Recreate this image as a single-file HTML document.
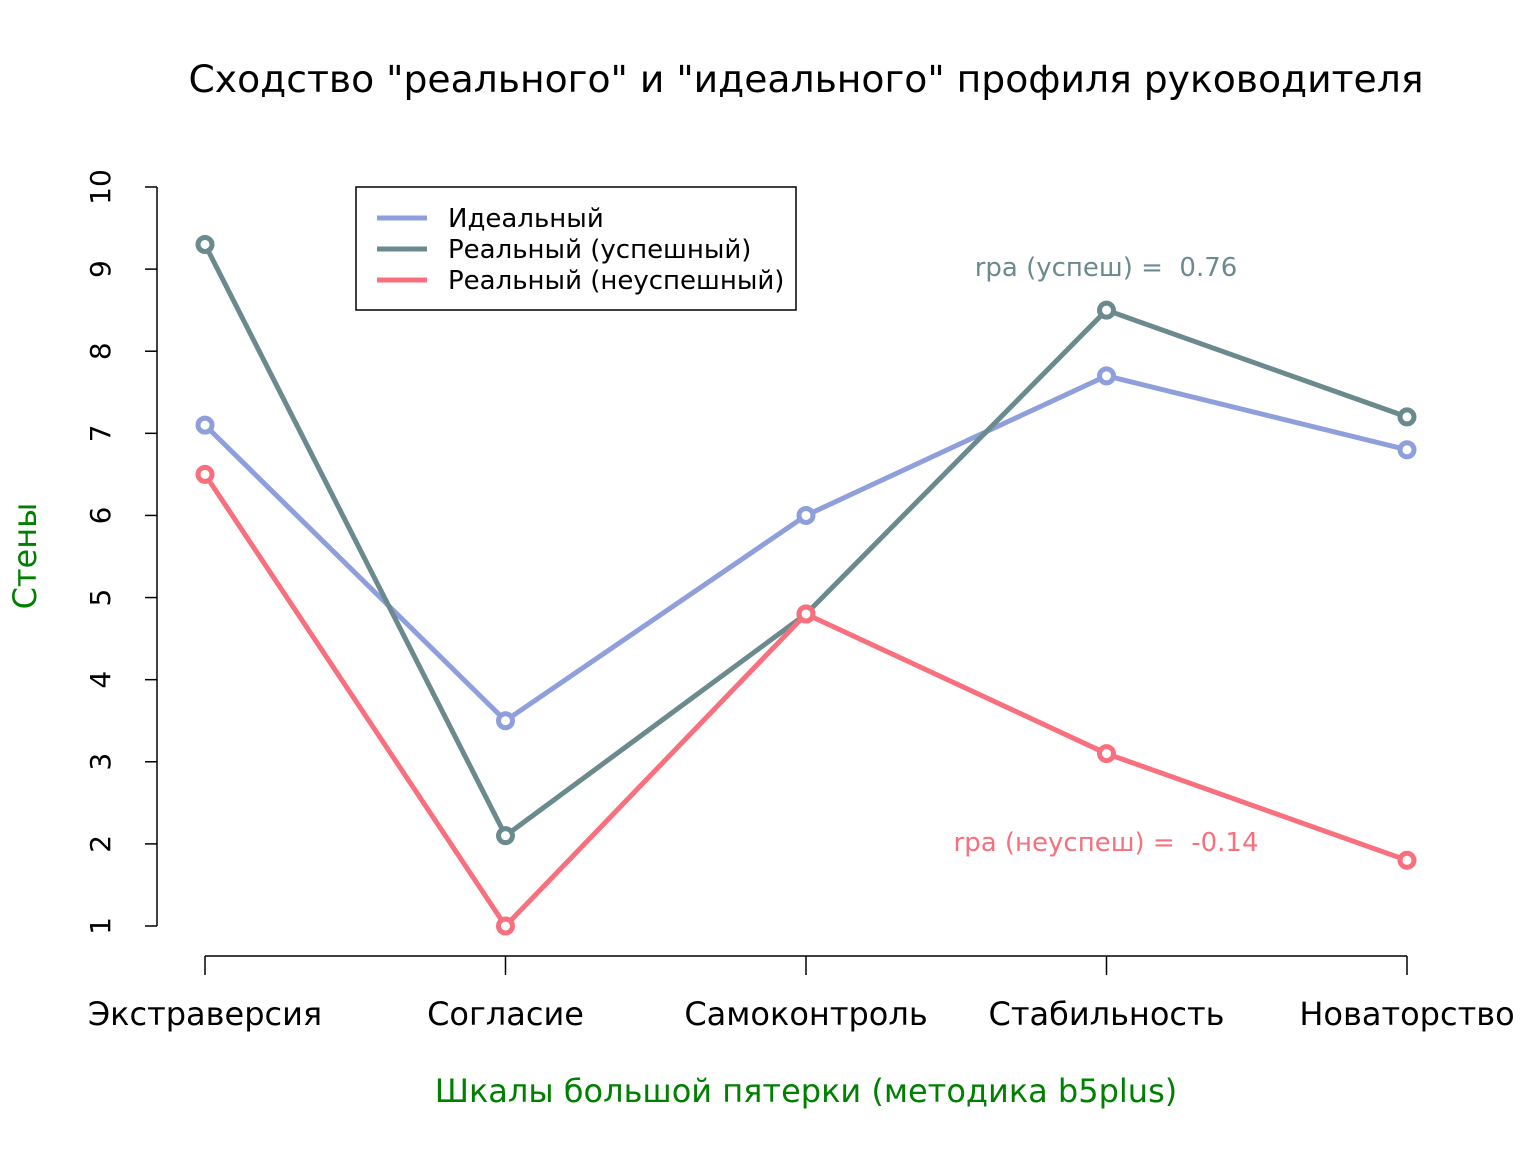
<!DOCTYPE html>
<html><head><meta charset="utf-8"><style>
body{margin:0;background:#fff}
svg{display:block;font-family:"DejaVu Sans","Liberation Sans",sans-serif}
</style></head><body>
<svg id="chart" width="1536" height="1152" viewBox="0 0 1536 1152">
<rect width="1536" height="1152" fill="#fff"/>
<text x="806" y="92" font-size="37.7" text-anchor="middle">Сходство "реального" и "идеального" профиля руководителя</text>
<text x="806" y="1102" font-size="32" fill="#008000" text-anchor="middle">Шкалы большой пятерки (методика b5plus)</text>
<text transform="translate(36,556) rotate(-90)" font-size="32" fill="#008000" text-anchor="middle">Стены</text>
<g id="axes"></g>
<g id="series"></g>
<g>
<rect x="356" y="187" width="440" height="123" fill="#fff" stroke="#000" stroke-width="1.5"/>
<line x1="377" y1="218" x2="427" y2="218" stroke="#8e9fdc" stroke-width="5"/>
<text x="448" y="227" font-size="26">Идеальный</text>
<line x1="377" y1="249" x2="427" y2="249" stroke="#6b8a8e" stroke-width="5"/>
<text x="448" y="258" font-size="26">Реальный (успешный)</text>
<line x1="377" y1="280" x2="427" y2="280" stroke="#f8707e" stroke-width="5"/>
<text x="448" y="289" font-size="26">Реальный (неуспешный)</text>
</g>
<text x="1106" y="276" font-size="26" fill="#6b8a8e" text-anchor="middle">rpa (успеш) =&#160; 0.76</text>
<text x="1106" y="851" font-size="26" fill="#f8707e" text-anchor="middle">rpa (неуспеш) =&#160; -0.14</text>
</svg>
<script>
const categories = ["Экстраверсия","Согласие","Самоконтроль","Стабильность","Новаторство"];
const idealValues = [7.1, 3.5, 6.0, 7.7, 6.8];
const successValues = [9.3, 2.1, 4.8, 8.5, 7.2];
const failValues = [6.5, 1.0, 4.8, 3.1, 1.8];
const yTicks = [1,2,3,4,5,6,7,8,9,10];

const NS = "http://www.w3.org/2000/svg";
function xScale(i){ return 205 + i * (1407 - 205) / (categories.length - 1); }
function yScale(v){ return 926 - (v - 1) * (926 - 187) / 9; }
function mk(tag, attrs, parent){ const e = document.createElementNS(NS, tag); for (const k in attrs) e.setAttribute(k, attrs[k]); parent.appendChild(e); return e; }

const axes = document.getElementById("axes");
let l = mk("line", {x1:157, y1:yScale(1), x2:157, y2:yScale(10), stroke:"#000", "stroke-width":1.5}, axes);


yTicks.forEach(t => {
  const tk = mk("line", {x1:145, y1:yScale(t), x2:157, y2:yScale(t), stroke:"#000", "stroke-width":1.5}, axes);
  
  
  const tx = mk("text", {transform:`translate(110,${yScale(t)}) rotate(-90)`, "font-size":28, "text-anchor":"middle"}, axes);
  tx.textContent = t;
  
  
});
l = mk("line", {x1:xScale(0), y1:956, x2:xScale(categories.length-1), y2:956, stroke:"#000", "stroke-width":1.5}, axes);


categories.forEach((c, i) => {
  const tk = mk("line", {x1:xScale(i), y1:956, x2:xScale(i), y2:975, stroke:"#000", "stroke-width":1.5}, axes);
  
  
  const tx = mk("text", {x:xScale(i), y:1025, "font-size":32, "text-anchor":"middle"}, axes);
  tx.textContent = c;
  
  
});

const series = document.getElementById("series");
function drawSeries(vals, color, name){
  const pts = vals.map((v,i) => xScale(i) + "," + yScale(v)).join(" ");
  const pl = mk("polyline", {points:pts, fill:"none", stroke:color, "stroke-width":5, "stroke-linejoin":"round"}, series);
  
  
  vals.forEach((v,i) => {
    const c = mk("circle", {cx:xScale(i), cy:yScale(v), r:7, fill:"#fff", stroke:color, "stroke-width":5}, series);
    
    
  });
}
drawSeries(idealValues, "#8e9fdc", "ideal");
drawSeries(successValues, "#6b8a8e", "success");
drawSeries(failValues, "#f8707e", "fail");
</script>
</body></html>
